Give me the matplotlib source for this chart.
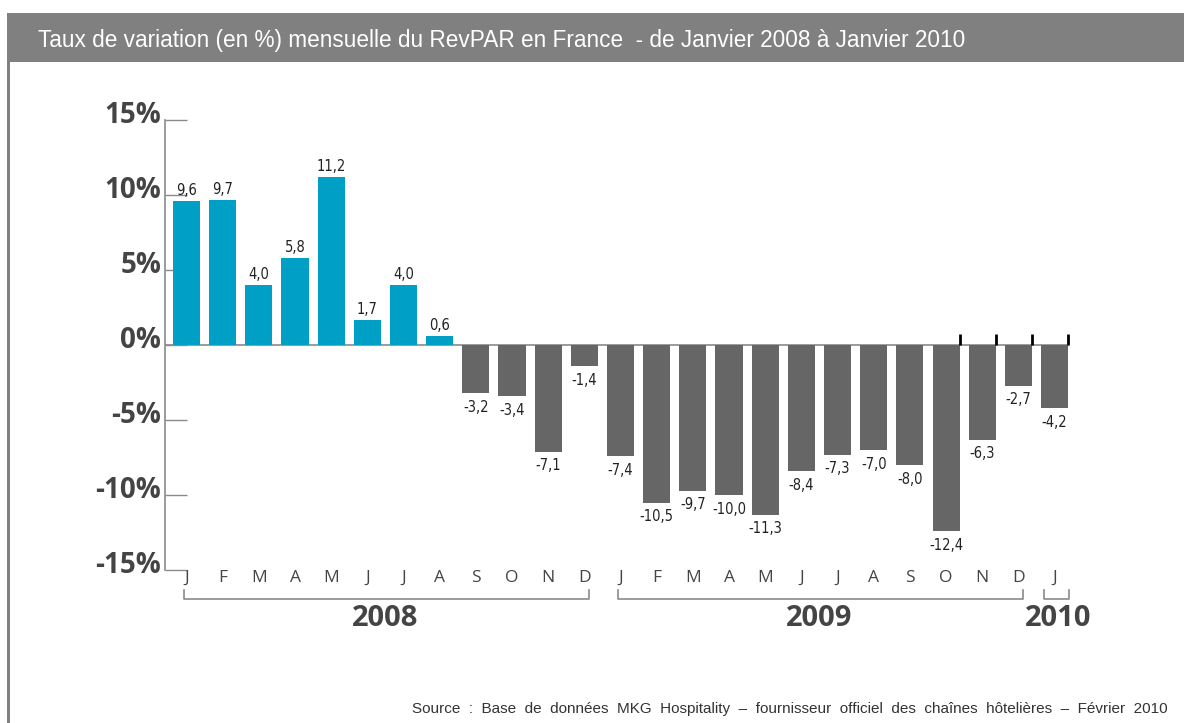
import matplotlib

matplotlib.use("Agg")
import matplotlib.pyplot as plt
import matplotlib.transforms as mtransforms
from matplotlib.patches import Rectangle

# monthly RevPAR change (%), Jan 2008 -> Jan 2010
months = ["J", "F", "M", "A", "M", "J", "J", "A", "S", "O", "N", "D",
          "J", "F", "M", "A", "M", "J", "J", "A", "S", "O", "N", "D", "J"]
values = [9.6, 9.7, 4.0, 5.8, 11.2, 1.7, 4.0, 0.6, -3.2, -3.4, -7.1, -1.4,
          -7.4, -10.5, -9.7, -10.0, -11.3, -8.4, -7.3, -7.0, -8.0, -12.4, -6.3, -2.7, -4.2]
years = ["2008", "2009", "2010"]
year_spans = [(0, 11), (12, 23), (24, 24)]
yticks = [15, 10, 5, 0, -5, -10, -15]

BLUE = "#00a0c6"
GREY_BAR = "#666666"
LINE = "#8a8a8a"
TXT = "#444444"
NARROW = dict(family="DejaVu Sans", stretch="condensed")

W, H = 1184, 723
fig = plt.figure(figsize=(W / 100, H / 100), dpi=100)
fig.patch.set_facecolor("white")

# header band + left border
fig.add_artist(Rectangle((7 / W, 1 - 62 / H), 1, 49 / H, transform=fig.transFigure,
                         color="#808080", lw=0))
fig.add_artist(Rectangle((7 / W, 0), 3 / W, 1 - 62 / H, transform=fig.transFigure,
                         color="#808080", lw=0))
fig.text(38 / W, 1 - 41 / H,
         "Taux de variation (en %) mensuelle du RevPAR en France  - de Janvier 2008 à Janvier 2010",
         color="white", fontsize=16.3, family="Liberation Sans", va="center", ha="left")

# axes: y = 15 at px 120, y = -15 at px 570; bar i centered at 186.5 + 36.17*i
step = 36.17
x_left = (165 - 186.5) / step
x_right = (1120 - 186.5) / step
ax = fig.add_axes([165 / W, 1 - 570 / H, (1120 - 165) / W, 450 / H])
ax.set_xlim(x_left, x_right)
ax.set_ylim(-15, 15)
for s in ["top", "right", "bottom"]:
    ax.spines[s].set_visible(False)
ax.spines["left"].set_color(LINE)
ax.spines["left"].set_linewidth(1.2)
ax.set_xticks([])
ax.set_yticks(yticks)
ax.set_yticklabels([])
ax.tick_params(axis="y", direction="in", length=16, width=1, color=LINE)
ax.set_axisbelow(True)

# y labels, baseline a few px under the tick
lab_tr = ax.get_yaxis_transform() + mtransforms.ScaledTranslation(-4 / 100, -3 / 100,
                                                                   fig.dpi_scale_trans)
for t in yticks:
    ax.text(0, t, f"{t}%", transform=lab_tr, ha="right", va="baseline", fontsize=20,
            fontweight="bold", color=TXT, family="Open Sans")

xs = list(range(len(values)))
colors = [BLUE if v >= 0 else GREY_BAR for v in values]
ax.plot([x_left, len(values) - 1 + 0.375], [0, 0], color=LINE, lw=1.2, zorder=1)
ax.bar(xs, values, width=0.75, color=colors, zorder=2)

for x, v in zip(xs, values):
    lab = f"{v:.1f}".replace(".", ",")
    if v >= 0:
        ax.annotate(lab, (x, v), xytext=(0, 2), textcoords="offset points",
                    ha="center", va="bottom", fontsize=10.5, color="#222222", **NARROW)
    else:
        ax.annotate(lab, (x, v), xytext=(0, -5), textcoords="offset points",
                    ha="center", va="top", fontsize=10.5, color="#222222", **NARROW)

# small black marks on the baseline at the end of the series
for x in xs[21:]:
    ax.plot([x + 0.375, x + 0.375], [0, 0.75], color="black", lw=2, zorder=3,
            solid_capstyle="butt")

# month labels, year brackets and year labels
for x, m in zip(xs, months):
    ax.text(x, -15.5, m, ha="center", va="center", fontsize=12.5, color=TXT,
            family="Open Sans", clip_on=False)

for yr, (a, b) in zip(years, year_spans):
    x0, x1 = a - 0.08, b + 0.12
    if a == b:
        x0, x1 = a - 0.3, b + 0.4
    ax.plot([x0, x0, x1, x1], [-16.35, -16.95, -16.95, -16.35], color=LINE, lw=1.2,
            clip_on=False)
    ax.text((a + b) / 2 + (0.1 if a == b else 0), -18.25, yr, ha="center", va="center",
            fontsize=21, fontweight="bold", color=TXT, family="Open Sans", clip_on=False)

fig.text(1168 / W, 1 - 709 / H,
         "Source  :  Base  de  données  MKG  Hospitality  –  fournisseur  officiel  des  chaînes  hôtelières  –  Février  2010",
         ha="right", va="center", fontsize=11, color="#333333", family="Liberation Sans")

fig.savefig("out.png", dpi=100)
